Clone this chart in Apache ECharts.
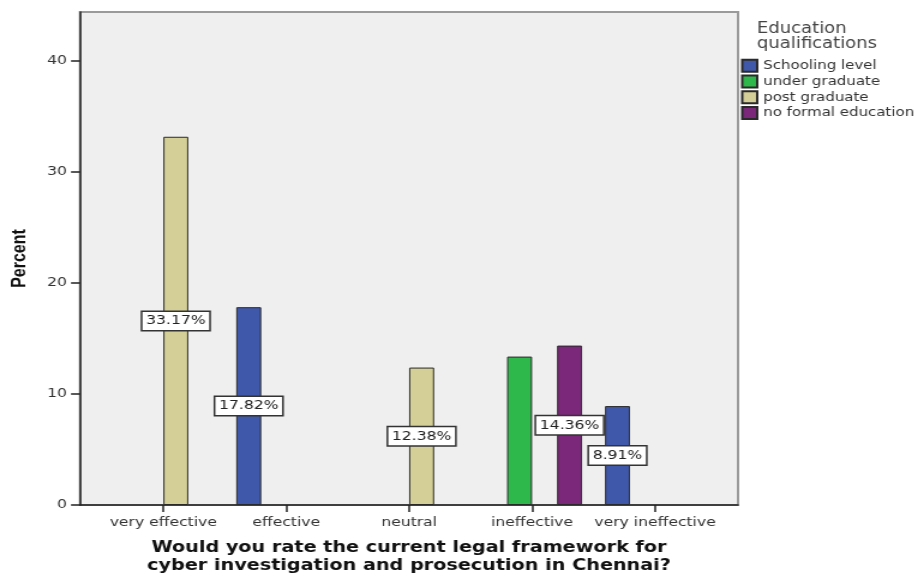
<!DOCTYPE html>
<html>
<head>
<meta charset="utf-8">
<script src="https://cdn.jsdelivr.net/npm/echarts@6/dist/echarts.min.js"></script>
<style>
  html, body { margin: 0; padding: 0; background: #ffffff; overflow: hidden; }
  /* the chart is laid out narrower and widened horizontally, giving the wide lettering */
  #chart { width: 763.33px; height: 578px; transform: scaleX(1.2); transform-origin: 0 0; }
</style>
</head>
<body>
<div id="chart"></div>
<script>
// Survey answers by education qualification (percent of all respondents)
const categories = ['very effective', 'effective', 'neutral', 'ineffective', 'very ineffective'];
const schoolingLevel    = [null, 17.82, null, null, 8.91];
const underGraduate     = [null, null, null, 13.37, null];
const postGraduate      = [33.17, null, 12.38, null, null];
const noFormalEducation = [null, null, null, 14.36, null];
const seriesNames = ['Schooling level', 'under graduate', 'post graduate', 'no formal education'];
const yTicks = [0, 10, 20, 30, 40];
const yMax = 44.41;

const SX = 1.2;               // horizontal widening applied to the container
const X = v => v / SX;        // page x (px) -> layout x
const FONT = 'DejaVu Sans, Verdana, sans-serif';
const colors = ['#3f58a9', '#2eb84b', '#d4cf96', '#7b287a'];

const plot = { left: X(80), top: 12, width: X(658), height: 493 };
// inner band area for the bar clusters (category centres sit inset from the frame)
const band = { left: X(101.84), width: X(614.6) };

const valueLabel = {
  show: true,
  position: 'inside',
  formatter: p => p.value.toFixed(2) + '%',
  backgroundColor: '#ffffff',
  borderColor: '#333333',
  borderWidth: 1.5,
  padding: [3, 3, 2, 3],
  color: '#222222',
  fontFamily: FONT,
  fontSize: 13
};

function barSeries(name, data, idx, labelled) {
  return {
    name: name,
    type: 'bar',
    xAxisIndex: 1,
    yAxisIndex: 1,
    data: data,
    barWidth: X(25),
    barGap: '0%',
    itemStyle: { color: colors[idx], borderColor: '#2a2a2a', borderWidth: 1 },
    label: labelled ? valueLabel : { show: false },
    emphasis: { disabled: true },
    z: 3
  };
}

const chart = echarts.init(document.getElementById('chart'), null, { renderer: 'canvas' });

chart.setOption({
  animation: false,
  backgroundColor: '#ffffff',
  grid: [
    {
      left: plot.left, top: plot.top, width: plot.width, height: plot.height,
      outerBoundsMode: 'none', containLabel: false,
      show: true, backgroundColor: '#efefef', borderColor: '#9a9a9a', borderWidth: 2
    },
    {
      left: band.left, top: plot.top, width: band.width, height: plot.height,
      outerBoundsMode: 'none', containLabel: false
    }
  ],
  xAxis: [
    {
      gridIndex: 0,
      type: 'category',
      data: categories,
      axisLine: { show: true, lineStyle: { color: '#222222', width: 1.5 } },
      axisTick: { show: false },
      axisLabel: { show: false },
      splitLine: { show: false },
      name: 'Would you rate the current legal framework for\ncyber investigation and prosecution in Chennai?',
      nameLocation: 'middle',
      nameGap: 34,
      nameTextStyle: {
        fontFamily: FONT, fontWeight: 'bold', fontSize: 16, color: '#111111',
        lineHeight: 18, align: 'center'
      }
    },
    {
      gridIndex: 1,
      type: 'category',
      data: categories,
      axisLine: { show: false },
      axisTick: { show: true, alignWithLabel: true, length: 7, lineStyle: { color: '#222222', width: 1.5 } },
      axisLabel: { interval: 0, fontFamily: FONT, fontSize: 13, color: '#333333', margin: 11 },
      splitLine: { show: false }
    }
  ],
  yAxis: [
    {
      gridIndex: 0,
      type: 'value',
      min: 0, max: yMax, interval: 10,
      axisLine: { show: true, lineStyle: { color: '#222222', width: 1.5 } },
      axisTick: { show: true, length: X(9), customValues: yTicks, lineStyle: { color: '#222222', width: 1.5 } },
      axisLabel: {
        fontFamily: FONT, fontSize: 13, color: '#333333', margin: X(13),
        customValues: yTicks
      },
      splitLine: { show: false },
      name: 'Percent',
      nameLocation: 'middle',
      nameGap: X(50),
      nameTextStyle: {
        fontFamily: 'Liberation Sans, Arial, sans-serif',
        fontWeight: 'bold', fontSize: 16, color: '#111111'
      }
    },
    {
      gridIndex: 1,
      type: 'value',
      min: 0, max: yMax, interval: 10,
      show: false,
      splitLine: { show: false }
    }
  ],
  legend: {
    orient: 'vertical',
    left: X(741),
    top: 58,
    padding: 0,
    itemWidth: X(15),
    itemHeight: 12,
    itemGap: 0,
    icon: 'rect',
    selectedMode: false,
    data: seriesNames,
    textStyle: { fontFamily: FONT, fontSize: 12.5, color: '#333333', lineHeight: 15.7, overflow: 'none' }
  },
  graphic: [
    {
      type: 'text',
      left: X(829) - 60,
      top: 21,
      style: {
        text: 'Education\nqualifications',
        width: 120,
        align: 'center',
        fontFamily: FONT,
        fontSize: 15,
        lineHeight: 15.5,
        fill: '#444444'
      }
    }
  ],
  series: [
    barSeries(seriesNames[0], schoolingLevel, 0, true),
    barSeries(seriesNames[1], underGraduate, 1, false),
    barSeries(seriesNames[2], postGraduate, 2, true),
    barSeries(seriesNames[3], noFormalEducation, 3, true)
  ]
});
</script>
</body>
</html>
